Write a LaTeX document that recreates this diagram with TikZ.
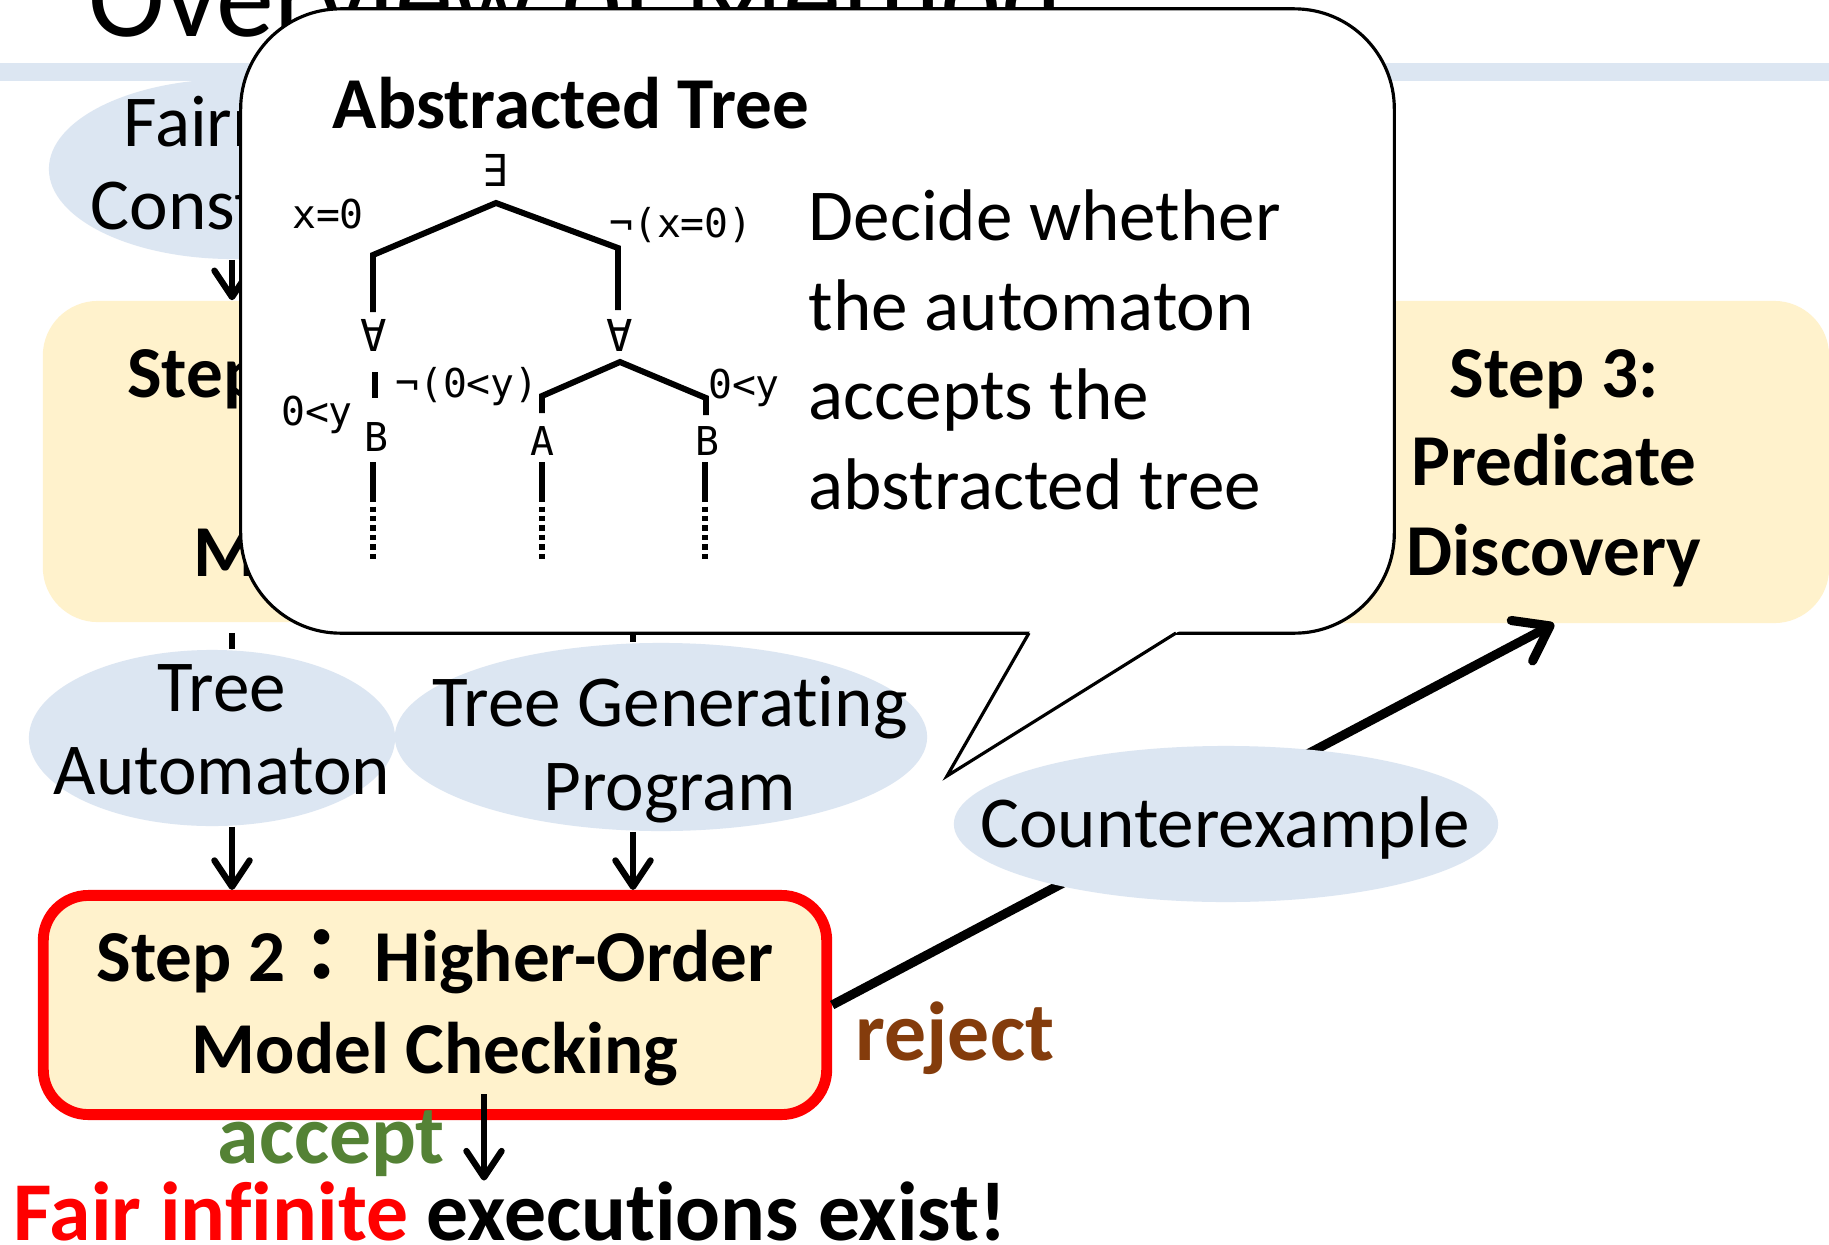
\documentclass[tikz,border=0pt]{standalone}
\usepackage{fontspec}
\setmainfont{Carlito}[Ligatures={NoCommon}, RawFeature={-liga;-clig;-dlig}]
\newfontfamily\treefont{DejaVu Sans Mono}
\newfontfamily\cjkfont{Noto Sans CJK JP}
\usetikzlibrary{arrows.meta,shapes.geometric,calc}

\definecolor{boxyellow}{HTML}{FFF2CC}
\definecolor{paleblue}{HTML}{DCE6F2}
\definecolor{okgreen}{HTML}{548235}
\definecolor{ngbrown}{HTML}{843C0C}

\newcommand\mainsize{\fontsize{20.8pt}{25pt}\selectfont}
\newcommand\bigsize{\fontsize{23.8pt}{28pt}\selectfont}
\newcommand\titlesize{\fontsize{33pt}{40pt}\selectfont}
\newcommand\treesize{\fontsize{11.3pt}{13pt}\selectfont}

\tikzset{
  txt/.style={inner sep=0pt, anchor=base, font=\mainsize},
  txtb/.style={inner sep=0pt, anchor=base, font=\mainsize\bfseries},
  bigb/.style={inner sep=0pt, anchor=base west, font=\bigsize\bfseries},
  stepbox/.style={rectangle, fill=boxyellow, draw=none, rounded corners=0.55cm, inner sep=0pt},
  blob/.style={ellipse, fill=paleblue, draw=none, inner sep=0pt},
  plain/.style={line width=1.8pt},
  arr/.style={line width=1.8pt, -{Straight Barb[length=7.5pt,width=10pt,round]}},
  thickarr/.style={line width=2.6pt, -{Straight Barb[length=9pt,width=13pt,round]}},
  callout/.style={rectangle, draw=black, line width=0.9pt, fill=white, rounded corners=1cm, inner sep=0pt},
  treeline/.style={line width=1.7pt},
  treedots/.style={line width=1.7pt, dash pattern=on 1.5pt off 1.2pt},
  treelbl/.style={inner sep=0pt, font=\treefont\treesize},
  quant/.style={inner sep=0pt, font=\treefont\fontsize{12.5pt}{14pt}\selectfont},
}

\begin{document}
\begin{tikzpicture}[x=0.01cm, y=-0.01cm]
\useasboundingbox (0,0) rectangle (1829,1245);
\fill[white] (0,0) rectangle (1829,1245);
\clip (0,0) rectangle (1829,1245);

% slide heading and header band
\node[inner sep=0pt, anchor=base west, font=\titlesize] (title) at (88,36) {Overview of Method};
\fill[paleblue] (0,63) rectangle (1829,81);

% helper columns for the vertical connectors
\coordinate (c1) at (232,0);
\coordinate (c2) at (633,0);
\coordinate (c3) at (484,0);

% fairness input
\node[blob, minimum width=3.68cm, minimum height=1.8cm] (fair) at (233,169) {};
\node[txt] (fair1) at (244,146) {Fairness};
\node[txt] (fair2) at (244,229) {Constraint};

% step 1 and step 3
\node[stepbox, minimum width=7.88cm, minimum height=3.21cm] (s1) at (437,461.5) {};
\node[txtb] (s1a) at (437,397) {Step 1: Reduction to};
\node[txtb] (s1b) at (437,486) {Higher-Order};
\node[txtb] (s1c) at (437,576) {Model Checking};

\node[stepbox, minimum width=5.5cm, minimum height=3.22cm] (s3) at (1554,462) {};
\node[txtb] (s3a) at (1554,397) {Step 3:};
\node[txtb] (s3b) at (1554,485) {Predicate};
\node[txtb] (s3c) at (1554,575) {Discovery};

\draw[arr] (fair.south -| c1) -- (s1.north -| c1);

% outputs of step 1
\node[blob, minimum width=3.66cm, minimum height=1.76cm] (ta) at (212,738) {};
\node[txt] (ta1) at (222,711) {Tree};
\node[txt] (ta2) at (222,794) {Automaton};

\node[blob, minimum width=5.32cm, minimum height=1.88cm] (tgp) at (661,737) {};
\node[txt] (tgp1) at (670,726) {Tree Generating};
\node[txt] (tgp2) at (670,810) {Program};

\draw[plain, shorten <=0.1cm] (s1.south -| c1) -- (ta.north -| c1);
\draw[plain] (s1.south -| c2) -- (tgp.north -| c2);

% step 2
\node[stepbox, draw=red, line width=3.1pt, rounded corners=0.45cm,
      minimum width=7.83cm, minimum height=2.19cm] (s2) at (435,1005) {};
\node[txtb] (s2a) at (435,981) {Step 2{\cjkfont ：} Higher-Order};
\node[txtb] (s2b) at (435,1073) {Model Checking};

\draw[arr] (ta.south -| c1) -- (s2.north -| c1);
\draw[arr] (tgp.south -| c2) -- (s2.north -| c2);

% refinement loop
\draw[thickarr] (s2.east) -- (s3.south);
\node[blob, minimum width=5.44cm, minimum height=1.56cm] (cex) at (1226,824) {};
\node[txt] (cex1) at (1225,847) {Counterexample};

% results of step 2
\node[bigb, text=ngbrown] (rej) at (855,1060) {reject};
\node[bigb, text=okgreen] (acc) at (217,1163) {accept};
\node[bigb] (res) at (13,1240) {\textcolor{red}{Fair infinite} executions exist!};
\draw[arr] ($(s2.south -| c3)+(0,-26)$) -- (res.north -| c3);

% speech bubble
\node[callout, minimum width=11.53cm, minimum height=6.24cm] (bubble) at (817.5,321) {};
\coordinate (p1) at (1029,633);
\coordinate (tip) at (947,776);
\coordinate (p2) at (1176,633);
\fill[white] ($(p1)!-0.035!(tip)$) -- (tip) -- ($(p2)!-0.035!(tip)$) -- cycle;
\draw[line width=0.9pt, line join=miter] (p1) -- (tip) -- (p2);

\node[txtb, anchor=base west] (abs) at (332,128) {Abstracted Tree};
\node[txt, anchor=base west] (d1) at (808,240) {Decide whether};
\node[txt, anchor=base west] (d2) at (808,330) {the automaton};
\node[txt, anchor=base west] (d3) at (808,419) {accepts the};
\node[txt, anchor=base west] (d4) at (808,509) {abstracted tree};

% abstracted tree
\node[quant] (ex) at (496,170) {∃};
\draw[treeline] (373,312) -- (373,255) -- (496,203) -- (618,248) -- (618,310);
\node[treelbl] (l1) at (328,214) {x=0};
\node[treelbl] (l2) at (681,225) {¬(x=0)};

\node[quant] (fa1) at (374,335) {∀};
\node[quant] (fa2) at (620,335) {∀};

\draw[treeline] (375,372) -- (375,398);
\node[treelbl] (l3) at (317,415) {0<y};
\node[treelbl] (bl) at (376,437) {B};

\draw[treeline] (542,413) -- (542,396) -- (620,362) -- (706,398) -- (706,415);
\node[treelbl] (l4) at (467,387) {¬(0<y)};
\node[treelbl] (l5) at (744,388) {0<y};
\node[treelbl] (am) at (542,441) {A};
\node[treelbl] (br) at (707,441) {B};

\foreach \x in {373, 542, 705} {
  \draw[treeline] (\x,462) -- (\x,497);
  \draw[treedots] (\x,497) -- (\x,563);
}
\end{tikzpicture}
\end{document}
